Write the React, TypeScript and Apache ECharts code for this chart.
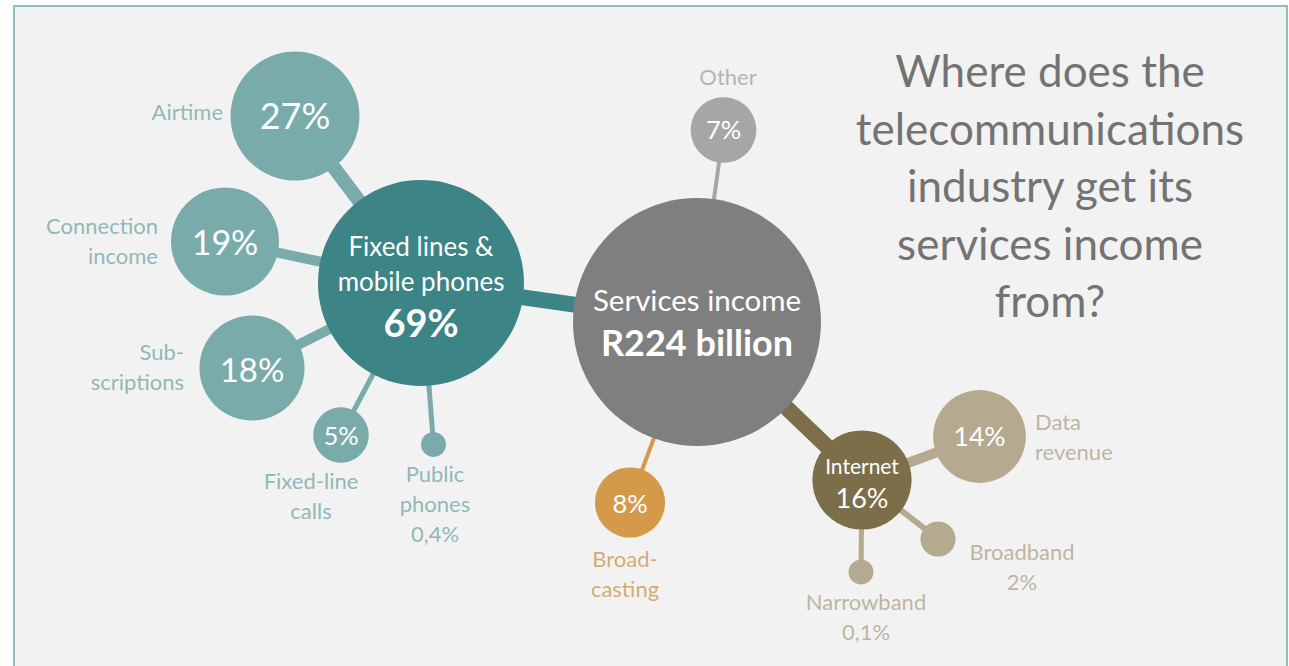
import React, { useEffect, useRef } from "react";
import * as echarts from "echarts";

// ---------------- data ----------------
const nodeNames = [
  "Services income",
  "Fixed lines & mobile phones",
  "Airtime",
  "Connection income",
  "Subscriptions",
  "Fixed-line calls",
  "Public phones",
  "Other",
  "Broadcasting",
  "Internet",
  "Data revenue",
  "Broadband",
  "Narrowband",
];
// share of total services income, %
const nodeShares = [100, 69, 27, 19, 18, 5, 0.4, 7, 8, 16, 14, 2, 0.1];
// index of the parent node (-1 = root)
const nodeParents = [-1, 0, 1, 1, 1, 1, 1, 0, 0, 0, 9, 9, 9];
// text written beside each bubble ({v} = share)
const outerTexts = [
  "",
  "",
  "Airtime",
  "Connection\nincome",
  "Sub-\nscriptions",
  "Fixed-line\ncalls",
  "Public\nphones\n{v}",
  "Other",
  "Broad-\ncasting",
  "",
  "Data\nrevenue",
  "Broadband\n{v}",
  "Narrowband\n{v}",
];
const totalIncomeBillion = 224;
const hubLines = ["Fixed lines &", "mobile phones"];
const titleLines = [
  "Where does the",
  "telecommunications",
  "industry get its",
  "services income",
  "from?",
];

// ---------------- layout & style ----------------
const W = 1289;
const H = 666;
const FONT = "Lato";
const LAYOUT_X = [697, 421, 295, 225, 252, 341, 433.5, 723.5, 630, 862, 979.5, 938, 861];
const LAYOUT_Y = [322, 283, 116, 241.5, 368, 435, 444.5, 130, 502.5, 480, 436.5, 539, 572];

const TEAL_DARK = "#3d8486";
const TEAL = "#79abab";
const GREY = "#7f7f7f";
const GREY_LIGHT = "#a6a6a6";
const ORANGE = "#d5994a";
const OLIVE = "#7d6e4a";
const BEIGE = "#b5aa8f";

const NODE_COLORS = [GREY, TEAL_DARK, TEAL, TEAL, TEAL, TEAL, TEAL, GREY_LIGHT, ORANGE, OLIVE, BEIGE, BEIGE, BEIGE];
const LINK_COLORS = [null, TEAL_DARK, TEAL, TEAL, TEAL, TEAL, TEAL, GREY_LIGHT, ORANGE, OLIVE, BEIGE, BEIGE, BEIGE];
const LINK_WIDTHS = [0, 16, 14, 10, 10, 5, 5, 4, 4, 16, 10, 6, 5];
const OUTER_COLORS = ["", "", "#76a8a9", "#76a8a9", "#76a8a9", "#76a8a9", "#76a8a9", "#a3a3a3", "#cd984f", "", "#b0a58b", "#b0a58b", "#b0a58b"];
// [align, dx, dy] of the outer text relative to the bubble centre
const OUTER_POS: any[] = [
  null,
  null,
  ["right", -72, -4.5],
  ["right", -67, -1.5],
  ["right", -68, -1.5],
  ["center", -30, 60],
  ["center", 1.5, 58.5],
  ["center", 4.5, -53.5],
  ["center", -5, 71],
  null,
  ["left", 55.5, -0.5],
  ["center", 84, 27],
  ["center", 5, 44.5],
];
const INNER_SIZE = [0, 0, 36, 34, 33, 25.5, 0, 25.5, 25.5, 0, 26.5, 0, 0];
const INNER_DY = [0, 4, -1.5, -0.5, 1, -0.5, 0, -1.5, 0, 3, -0.5, 0, 0];

const fmt = (v: number) => String(v).replace(".", ",") + "%";
const radius = (v: number) => Math.max(12.5, 12.4 * Math.sqrt(v));

function innerLabel(i: number): any {
  const base = { show: true, position: "inside", color: "#ffffff", fontFamily: FONT, offset: [0, INNER_DY[i]] };
  if (i === 0) {
    return {
      ...base,
      formatter: `{a|${nodeNames[0]}}\n{b|R${totalIncomeBillion} billion}`,
      rich: {
        a: { fontSize: 29.5, lineHeight: 40, color: "#fff", fontFamily: FONT },
        b: { fontSize: 36, fontWeight: "bold", lineHeight: 46, color: "#fff", fontFamily: FONT },
      },
    };
  }
  if (i === 1) {
    return {
      ...base,
      formatter: `{a|${hubLines[0]}}\n{a|${hubLines[1]}}\n{b|${fmt(nodeShares[1])}}`,
      rich: {
        a: { fontSize: 26, lineHeight: 35, color: "#fff", fontFamily: FONT },
        b: { fontSize: 38, fontWeight: "bold", lineHeight: 47, color: "#fff", fontFamily: FONT },
      },
    };
  }
  if (i === 9) {
    return {
      ...base,
      formatter: `{a|${nodeNames[9]}}\n{b|${fmt(nodeShares[9])}}`,
      rich: {
        a: { fontSize: 21, lineHeight: 28, color: "#fff", fontFamily: FONT },
        b: { fontSize: 27, lineHeight: 36, color: "#fff", fontFamily: FONT },
      },
    };
  }
  if (!INNER_SIZE[i]) return { show: false };
  return { ...base, formatter: fmt(nodeShares[i]), fontSize: INNER_SIZE[i] };
}

export default function App() {
  const ref = useRef<HTMLDivElement>(null);
  useEffect(() => {
    if (!ref.current) return;
    const chart = echarts.init(ref.current, undefined, { renderer: "svg" });

    const graphNodes = nodeNames.map((name, i) => ({
      name,
      value: [LAYOUT_X[i], LAYOUT_Y[i]],
      symbol: "circle",
      symbolSize: 2 * radius(nodeShares[i]),
      itemStyle: { color: NODE_COLORS[i] },
      label: innerLabel(i),
    }));
    const graphLinks = nodeParents
      .map((p, i) => (p < 0 ? null : { source: p, target: i, lineStyle: { color: LINK_COLORS[i], width: LINK_WIDTHS[i], opacity: 1 } }))
      .filter(Boolean);

    const outerData = nodeNames
      .map((name, i) => {
        const pos = OUTER_POS[i];
        if (!pos || !outerTexts[i]) return null;
        return {
          name,
          value: [LAYOUT_X[i], LAYOUT_Y[i]],
          label: {
            show: true,
            position: "inside",
            align: pos[0],
            verticalAlign: "middle",
            offset: [pos[1], pos[2]],
            formatter: outerTexts[i].replace("{v}", fmt(nodeShares[i])),
            color: OUTER_COLORS[i],
            fontSize: 22,
            lineHeight: 30,
            fontFamily: FONT,
          },
        };
      })
      .filter(Boolean);

    chart.setOption({
      animation: false,
      backgroundColor: "#ffffff",
      grid: { left: 0, right: 0, top: 0, bottom: 0 },
      xAxis: { type: "value", min: 0, max: W, show: false },
      yAxis: { type: "value", min: 0, max: H, inverse: true, show: false },
      graphic: {
        elements: [
          {
            type: "rect",
            z: -10,
            silent: true,
            shape: { x: 14, y: 6, width: 1273, height: 720 },
            style: { fill: "#f2f2f2", stroke: "#8ebfc1", lineWidth: 2 },
          },
          {
            type: "text",
            z: 10,
            silent: true,
            x: 1050,
            y: 185,
            style: {
              text: titleLines.join("\n"),
              align: "center",
              verticalAlign: "middle",
              fontSize: 44,
              fontFamily: FONT,
              lineHeight: 57.5,
              fill: "#737373",
            },
          },
        ],
      },
      series: [
        {
          type: "graph",
          coordinateSystem: "cartesian2d",
          layout: "none",
          silent: true,
          data: graphNodes,
          links: graphLinks,
          lineStyle: { opacity: 1, curveness: 0 },
          z: 2,
        },
        {
          type: "scatter",
          silent: true,
          symbolSize: 1,
          itemStyle: { color: "rgba(0,0,0,0)" },
          data: outerData,
          z: 3,
        },
      ],
    });
    return () => chart.dispose();
  }, []);
  return <div ref={ref} style={{ position: "absolute", left: 0, top: 0, width: W, height: H }} />;
}
